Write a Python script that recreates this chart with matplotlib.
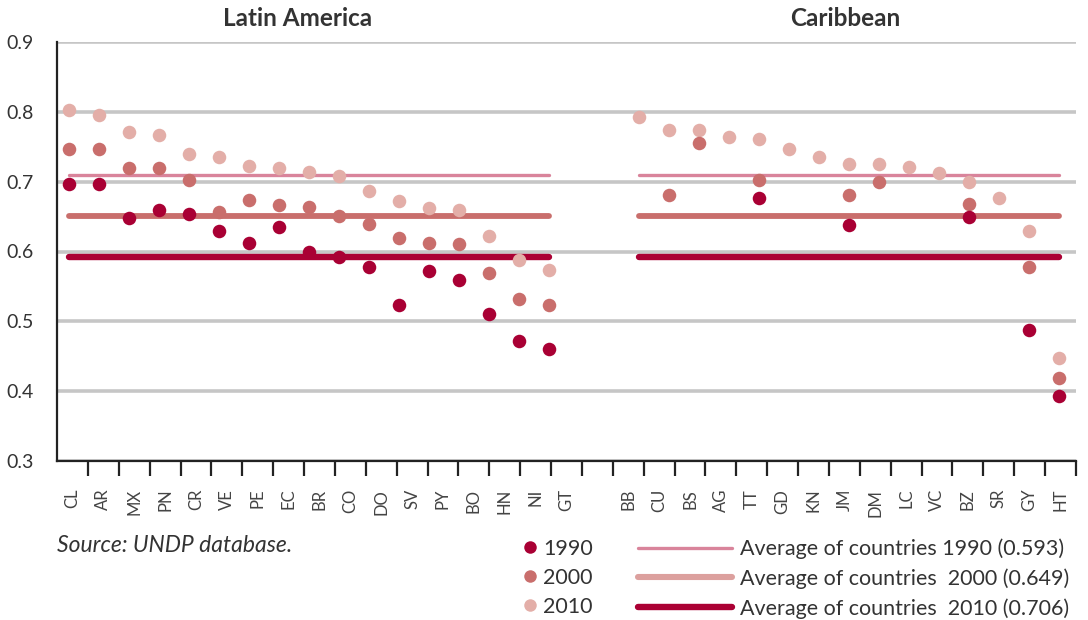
import matplotlib
matplotlib.use("Agg")
import matplotlib.pyplot as plt
from matplotlib.lines import Line2D
import numpy as np

plt.rcParams['font.family'] = ['Lato', 'DejaVu Sans']

# ---------------- data ----------------
latam = ["CL", "AR", "MX", "PN", "CR", "VE", "PE", "EC", "BR", "CO", "DO",
         "SV", "PY", "BO", "HN", "NI", "GT"]
carib = ["BB", "CU", "BS", "AG", "TT", "GD", "KN", "JM", "DM", "LC", "VC",
         "BZ", "SR", "GY", "HT"]

latam_1990 = [0.697, 0.697, 0.648, 0.660, 0.654, 0.629, 0.612, 0.635, 0.600,
              0.592, 0.578, 0.523, 0.572, 0.559, 0.511, 0.472, 0.460]
latam_2000 = [0.747, 0.747, 0.719, 0.719, 0.702, 0.657, 0.674, 0.666, 0.664,
              0.651, 0.639, 0.620, 0.612, 0.611, 0.569, 0.532, 0.523]
latam_2010 = [0.803, 0.796, 0.771, 0.767, 0.739, 0.736, 0.722, 0.720, 0.714,
              0.708, 0.686, 0.672, 0.663, 0.660, 0.622, 0.588, 0.573]

carib_1990 = [None, None, None, None, 0.676, None, None, 0.638, None, None,
              None, 0.650, None, 0.488, 0.393]
carib_2000 = [None, 0.681, 0.755, None, 0.702, None, None, 0.681, 0.700, None,
              None, 0.668, None, 0.578, 0.419]
carib_2010 = [0.793, 0.774, 0.774, 0.764, 0.761, 0.747, 0.736, 0.725, 0.725,
              0.721, 0.713, 0.700, 0.676, 0.629, 0.448]

avg_lines = {"thin": 0.709, "medium": 0.651, "thick": 0.592}
legend_years = ["1990", "2000", "2010"]
legend_avg_labels = ["Average of countries 1990 (0.593)",
                     "Average of countries  2000 (0.649)",
                     "Average of countries  2010 (0.706)"]

yticks = [0.3, 0.4, 0.5, 0.6, 0.7, 0.8, 0.9]

# ---------------- styles ----------------
c1990 = "#a90034"
c2000 = "#c96e6c"
c2010 = "#e3aea8"
c_thin = "#d9849b"
c_med = "#c96e6c"
c_thick = "#ab0034"
c_thin_leg = "#d9849b"
c_med_leg = "#dca09e"
c_thick_leg = "#ab0034"
txt = "#333333"

fig = plt.figure(figsize=(10.88, 6.2), dpi=100)
ax = fig.add_axes([57 / 1088, 1 - 461 / 620, (1076 - 57) / 1088, (461 - 42) / 620])

# positions of points: Latin America 0..16, Caribbean 19..33
x_lat = np.arange(len(latam))
x_car = np.arange(len(carib)) + len(latam) + 2

def to_arr(v):
    return np.array([np.nan if a is None else a for a in v], dtype=float)

ms = 95
ax.scatter(x_lat, latam_2010, s=ms, color=c2010, zorder=4, linewidths=0)
ax.scatter(x_car, to_arr(carib_2010), s=ms, color=c2010, zorder=4, linewidths=0)
ax.scatter(x_lat, latam_2000, s=ms, color=c2000, zorder=5, linewidths=0)
ax.scatter(x_car, to_arr(carib_2000), s=ms, color=c2000, zorder=5, linewidths=0)
ax.scatter(x_lat, latam_1990, s=ms, color=c1990, zorder=6, linewidths=0)
ax.scatter(x_car, to_arr(carib_1990), s=ms, color=c1990, zorder=6, linewidths=0)

for xs in (x_lat, x_car):
    ax.plot([xs[0], xs[-1]], [avg_lines["thin"]] * 2, color=c_thin, lw=2.4,
            solid_capstyle="round", zorder=3)
    ax.plot([xs[0], xs[-1]], [avg_lines["medium"]] * 2, color=c_med, lw=4.2,
            solid_capstyle="round", zorder=3)
    ax.plot([xs[0], xs[-1]], [avg_lines["thick"]] * 2, color=c_thick, lw=4.6,
            solid_capstyle="round", zorder=3)

ax.set_xlim(-0.4, 33 + 17 / 30)
ax.set_ylim(0.3, 0.9)
ax.set_yticks(yticks)
ax.set_yticklabels([f"{v:.1f}" for v in yticks], fontsize=14, color=txt)
ax.tick_params(axis="y", length=0, pad=17)
ax.grid(axis="y", color="#c6c6c6", lw=2.6, zorder=1)
ax.set_xticks([])
for s in ("top", "right"):
    ax.spines[s].set_visible(False)
ax.spines["left"].set_color("#222222")
ax.spines["left"].set_linewidth(1.6)
ax.spines["bottom"].set_color("#222222")
ax.spines["bottom"].set_linewidth(1.6)
ax.set_axisbelow(True)

# category axis
cats = latam + [""] + carib
axc = ax.twiny()
axc.set_xlim(0, len(cats))
axc.xaxis.set_ticks_position("bottom")
axc.xaxis.set_label_position("bottom")
axc.set_xticks(np.arange(1, len(cats) + 1))
axc.set_xticklabels([])
axc.set_xticks(np.arange(len(cats)) + 0.5, minor=True)
axc.set_xticklabels(cats, minor=True, rotation=90, fontsize=12, color="#444444")
axc.tick_params(axis="x", which="major", length=10.5, width=1.6, color="#222222", direction="out")
axc.tick_params(axis="x", which="minor", length=0, pad=20)
for s in ("top", "right", "left", "bottom"):
    axc.spines[s].set_visible(False)

# titles
fig.text(298 / 1088, 1 - 19 / 620, "Latin America", ha="center", va="center",
         fontsize=17.5, fontweight="bold", color=txt)
fig.text(845 / 1088, 1 - 19 / 620, "Caribbean", ha="center", va="center",
         fontsize=17.5, fontweight="bold", color=txt)

# source
fig.text(57 / 1088, 1 - 546 / 620, "Source: UNDP database.", ha="left", va="center",
         fontsize=16.5, style="italic", color=txt)

# legends
dot_handles = [Line2D([], [], marker="o", ls="none", ms=9, color=c, mec="none")
               for c in (c1990, c2000, c2010)]
leg1 = fig.legend(dot_handles, legend_years, loc="upper left",
                  bbox_to_anchor=(511 / 1088, 1 - 528 / 620), frameon=False,
                  fontsize=15.5, handlelength=0.8, handletextpad=0.2,
                  labelspacing=0.42, borderpad=0, labelcolor=txt)
line_handles = [Line2D([], [], color=c_thin_leg, lw=2.4, solid_capstyle="round"),
                Line2D([], [], color=c_med_leg, lw=4.4, solid_capstyle="round"),
                Line2D([], [], color=c_thick_leg, lw=4.6, solid_capstyle="round")]
leg2 = fig.legend(line_handles, legend_avg_labels, loc="upper left",
                  bbox_to_anchor=(627 / 1088, 1 - 528 / 620), frameon=False,
                  fontsize=15.5, handlelength=4.4, handletextpad=0.35,
                  labelspacing=0.42, borderpad=0, labelcolor=txt)

fig.savefig("out.png", dpi=100)
